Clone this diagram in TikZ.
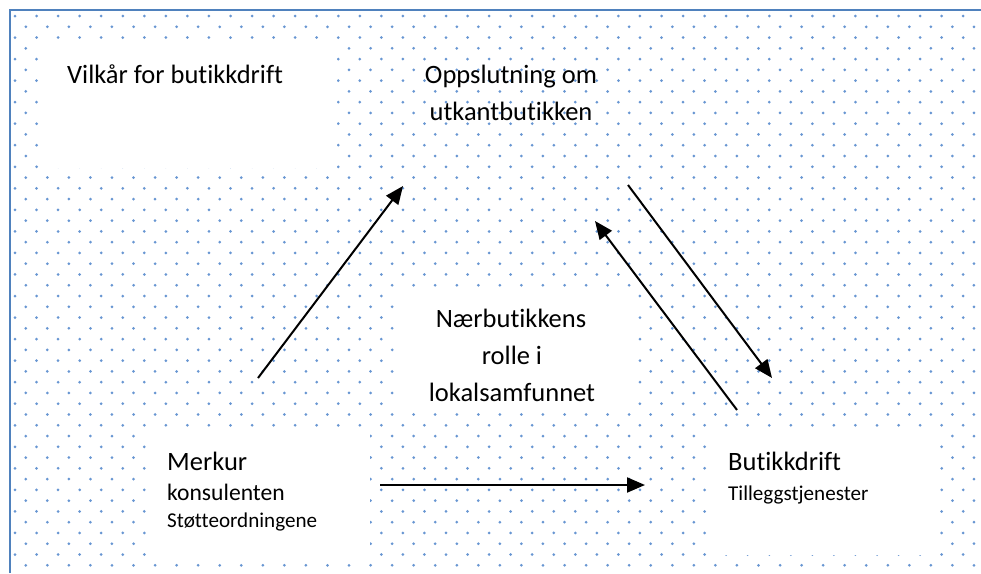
\documentclass[tikz,border=0pt]{standalone}
\usepackage{fontspec}
\setmainfont{Carlito}[Ligatures=NoCommon]
\usetikzlibrary{calc, arrows.meta, positioning}
\definecolor{officeblue}{RGB}{79,129,189}
\definecolor{dotblue}{RGB}{104,150,210}

\begin{document}
\begin{tikzpicture} [x=1pt, y=-1pt,
		% define styles
		whitebox/.style={
			% The shape:
			rectangle,
			% The border:
			draw=none,
			% The filling:
			fill=white,
			% Placement
			anchor=north west,
			inner sep=0pt
		},
		bigtext/.style={
			% Font
			font=\fontsize{26.5}{37}\selectfont,
			inner sep=0pt
		},
		midtext/.style={
			% Font
			font=\fontsize{23.6}{30}\selectfont,
			inner sep=0pt
		},
		smalltext/.style={
			% Font
			font=\fontsize{21.1}{27}\selectfont,
			inner sep=0pt
		},
		arrow/.style={
			-{Triangle[length=18pt, width=15pt]},
			% Thickness
			line width=2pt,
			% Color
			black
		}]
		% end of style definition

		\useasboundingbox (0,0) rectangle (981,573);

		% dotted background
		\foreach \r in {0,...,52} {
			\foreach \c in {0,...,45} {
				\fill [dotblue] ({15+21.55*\c+10.775*mod(\r,2)},{16+10.77*\r}) circle (1.5pt);
			}
		}

		% frame
		\draw [officeblue, line width=2.5pt] (10,573) -- (10,10) -- (981,10);

		% draw boxes
		\node (bVilkar) [whitebox, minimum width=292pt, minimum height=123pt] at (45,45) {};
		\node (bNaer) [whitebox, minimum width=242pt, minimum height=122pt] at (395,290) {};
		\node (bMerkur) [whitebox, minimum width=220pt, minimum height=129pt] at (150,433) {};
		\node (bButikk) [whitebox, minimum width=230pt, minimum height=122pt] at (707,433) {};

		% draw texts
		\node (tVilkar) [bigtext, anchor=base west] at (67,83) {Vilkår for butikkdrift};

		\node (tOpps) [bigtext, anchor=base] at (511,83) {Oppslutning om};
		\node (tUtkant) [bigtext, anchor=base] at (511,120) {utkantbutikken};

		\node (tNaer) [bigtext, anchor=base] at (511,327) {Nærbutikkens};
		\node (tRolle) [bigtext, anchor=base] at (512,364) {rolle i};
		\node (tLokal) [bigtext, anchor=base] at (512,401) {lokalsamfunnet};

		\node (tMerkur) [bigtext, anchor=base west] at (167,470) {Merkur};
		\node (tKons) [midtext, anchor=base west] at (167,500) {konsulenten};
		\node (tStotte) [smalltext, anchor=base west] at (167,527) {Støtteordningene};

		\node (tButikk) [bigtext, anchor=base west] at (728,470) {Butikkdrift};
		\node (tTillegg) [smalltext, anchor=base west] at (728,500) {Tilleggstjenester};

		% arrow ends
		\coordinate (cMerkurUp) at (258,378);
		\coordinate (cOppsIn) at (403,186);
		\coordinate (cButikkUp) at (737,410);
		\coordinate (cOppsBack) at (595,221);
		\coordinate (cOppsOut) at (628,185);
		\coordinate (cButikkIn) at (772,378);
		\coordinate (cMerkurOut) at (380,485);
		\coordinate (cButikkSide) at (645,485);

		% connect nodes
		\draw [arrow] (cMerkurUp) -- (cOppsIn);
		\draw [arrow] (cButikkUp) -- (cOppsBack);
		\draw [arrow] (cOppsOut) -- (cButikkIn);
		\draw [arrow] (cMerkurOut) -- (cButikkSide);
	\end{tikzpicture}
\end{document}
